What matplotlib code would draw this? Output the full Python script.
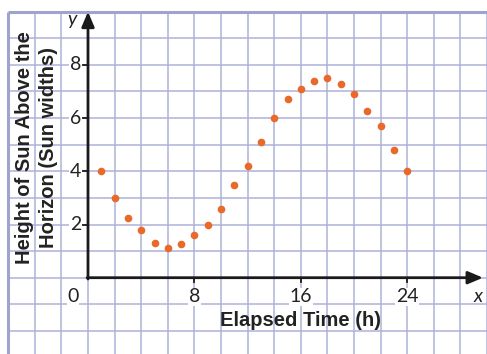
import matplotlib
matplotlib.use("Agg")
import matplotlib.pyplot as plt

# hourly sun height readings
hours = list(range(1, 25))
height = [4.0, 3.0, 2.25, 1.8, 1.3, 1.1, 1.25, 1.6, 2.0, 2.6, 3.5, 4.2,
          5.1, 6.0, 6.7, 7.1, 7.4, 7.5, 7.3, 6.9, 6.25, 5.7, 4.8, 4.0]

xticks = [8, 16, 24]
yticks = [2, 4, 6, 8]

grid_col = "#aeb2d8"
frame_col = "#9ea3cf"
dot_col = "#e8692a"
label_font = ["Liberation Sans", "DejaVu Sans"]
num_font = ["Lato", "DejaVu Sans"]
num_box = dict(facecolor="white", edgecolor="none", pad=0.5)

fig = plt.figure(figsize=(4.87, 3.54), dpi=100)
ax = fig.add_axes([0, 0, 1, 1])
ax.set_xlim(-88 / 13.3, 399 / 13.3)
ax.set_ylim(-76.3 / 26.6, 277.7 / 26.6)
ax.axis("off")

# graph paper
ax.vlines(range(-4, 31, 2), -3, 10, color=grid_col, lw=1.1, zorder=1)
ax.hlines(range(-2, 10), -6, 31, color=grid_col, lw=1.1, zorder=1)
ax.hlines(10, -6, 31, color=frame_col, lw=2.2, zorder=1)
ax.vlines(-6, -3, 10, color=frame_col, lw=2.2, zorder=1)

# axes with arrows
ax.annotate("", xy=(0, 10.0), xytext=(0, -0.05),
            arrowprops=dict(arrowstyle="-|>,head_length=0.9,head_width=0.38",
                            lw=2, color="#1a1a1a", shrinkA=0, shrinkB=0), zorder=3)
ax.annotate("", xy=(29.7, 0), xytext=(-0.07, 0),
            arrowprops=dict(arrowstyle="-|>,head_length=0.9,head_width=0.38",
                            lw=2, color="#1a1a1a", shrinkA=0, shrinkB=0), zorder=3)

for t in yticks:
    ax.plot([-0.35, 0], [t, t], color="#1a1a1a", lw=1.3, zorder=3)
    ax.text(-0.5, t, str(t), ha="right", va="center", fontsize=14,
            family=num_font, color="#222222", bbox=num_box, zorder=2)
for t in xticks:
    ax.plot([t, t], [0, -0.17], color="#1a1a1a", lw=1.3, zorder=3)
    ax.text(t, -0.72, str(t), ha="center", va="center", fontsize=14,
            family=num_font, color="#222222", bbox=num_box, zorder=2)
ax.text(-1.13, -0.72, "0", ha="center", va="center", fontsize=14,
        family=num_font, color="#222222", bbox=num_box, zorder=2)

ax.text(-1.2, 9.7, "y", ha="center", va="center", fontsize=14,
        family=num_font, style="italic", color="#222222")
ax.text(29.3, -0.72, "x", ha="center", va="center", fontsize=14,
        family=num_font, style="italic", color="#222222")

# data
ax.plot(hours, height, "o", color=dot_col, ms=5.5, mec="none", zorder=4)

# labels
ax.text(16.0, -1.6, "Elapsed Time (h)", ha="center", va="center",
        fontsize=14.5, weight="bold", family=label_font, color="#222222")
ax.text(-4.75, 4.9, "Height of Sun Above the", ha="center", va="center",
        rotation=90, fontsize=14.5, weight="bold", family=label_font, color="#222222")
ax.text(-3.0, 4.9, "Horizon (Sun widths)", ha="center", va="center",
        rotation=90, fontsize=14.5, weight="bold", family=label_font, color="#222222")

fig.savefig("out.png", dpi=100)
